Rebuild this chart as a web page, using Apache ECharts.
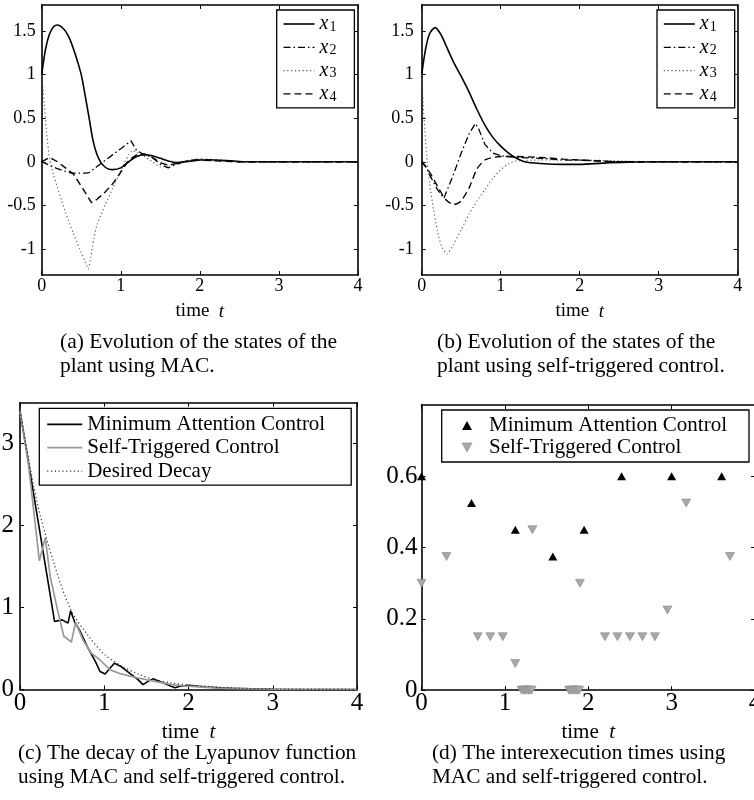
<!DOCTYPE html>
<html><head><meta charset="utf-8">
<script src="https://cdn.jsdelivr.net/npm/echarts@6/dist/echarts.min.js"></script>
<style>html,body{margin:0;padding:0;background:#fff}#c{width:754px;height:800px}</style>
</head><body><div id="c"></div>
<script>
// ---------- (a) states of the plant using MAC ----------
const a1T = [0,0.05,0.1,0.15,0.2,0.25,0.3,0.35,0.4,0.45,0.5,0.55,0.6,0.65,0.7,0.75,0.8,0.85,0.9,1.0,1.1,1.2,1.3,1.4,1.5,1.6,1.7,1.8,1.9,2.0,2.1,2.2,2.4,2.6,3.0,4.0];
const a1V = [1.0,1.3,1.47,1.55,1.57,1.55,1.5,1.42,1.3,1.16,1.0,0.76,0.5,0.24,0.08,-0.01,-0.06,-0.085,-0.09,-0.07,0.0,0.06,0.08,0.07,0.04,0.01,-0.01,0.0,0.01,0.02,0.02,0.02,0.01,0.0,0.0,0.0];
const a2T = [0,0.1,0.2,0.3,0.38,0.45,0.55,0.6,0.7,0.8,0.9,1.0,1.1,1.13,1.2,1.3,1.4,1.5,1.6,1.7,1.8,1.9,2.0,2.2,2.5,4.0];
const a2V = [0,-0.04,-0.08,-0.11,-0.13,-0.13,-0.13,-0.125,-0.055,0.014,0.082,0.15,0.22,0.24,0.13,0.08,0.05,-0.03,-0.07,-0.03,0.0,0.02,0.03,0.02,0.0,0.0];
const a3T = [0,0.03,0.06,0.1,0.15,0.2,0.25,0.3,0.4,0.48,0.55,0.59,0.62,0.66,0.7,0.8,0.9,1.0,1.1,1.15,1.2,1.3,1.4,1.5,1.6,1.7,1.9,2.0,2.2,2.5,4.0];
const a3V = [1.0,0.7,0.35,0.03,-0.15,-0.3,-0.44,-0.58,-0.82,-1.0,-1.15,-1.23,-1.1,-0.88,-0.72,-0.5,-0.3,-0.1,0.08,0.13,0.11,0.06,0.0,-0.06,-0.05,-0.01,0.02,0.03,0.01,0.0,0.0];
const a4T = [0,0.1,0.2,0.3,0.4,0.5,0.63,0.7,0.8,0.9,1.0,1.1,1.2,1.3,1.4,1.5,1.6,1.7,1.8,2.0,2.2,2.5,4.0];
const a4V = [0,0.05,0.0,-0.07,-0.14,-0.28,-0.47,-0.43,-0.35,-0.25,-0.12,0.02,0.08,0.09,0.05,-0.01,-0.04,-0.02,0.0,0.02,0.01,0.0,0.0];

// ---------- (b) states of the plant using self-triggered control ----------
const b1T = [0,0.05,0.1,0.17,0.25,0.3,0.4,0.5,0.6,0.7,0.8,0.9,1.0,1.1,1.2,1.3,1.5,1.8,2.0,2.3,2.6,3.0,4.0];
const b1V = [1.0,1.3,1.47,1.54,1.45,1.35,1.15,0.98,0.8,0.6,0.42,0.28,0.18,0.1,0.04,0.0,-0.02,-0.03,-0.03,-0.015,-0.005,0.0,0.0];
const b2T = [0,0.05,0.1,0.2,0.28,0.3,0.4,0.5,0.6,0.68,0.72,0.8,0.9,1.0,1.2,1.5,1.8,2.0,2.5,3.0,4.0];
const b2V = [0,-0.05,-0.15,-0.32,-0.42,-0.4,-0.15,0.1,0.32,0.44,0.38,0.2,0.1,0.07,0.05,0.04,0.02,0.02,0.0,0.0,0.0];
const b3T = [0,0.03,0.07,0.1,0.15,0.2,0.25,0.32,0.4,0.5,0.6,0.7,0.8,0.9,1.0,1.1,1.2,1.5,2.0,2.5,3.0,4.0];
const b3V = [1.0,0.5,0.0,-0.25,-0.55,-0.8,-0.97,-1.06,-0.95,-0.78,-0.6,-0.45,-0.32,-0.19,-0.09,-0.02,0.01,0.02,0.02,0.01,0.0,0.0];
const b4T = [0,0.1,0.2,0.3,0.4,0.45,0.5,0.6,0.7,0.8,0.9,1.0,1.2,1.5,1.8,2.0,2.5,4.0];
const b4V = [0,-0.12,-0.28,-0.43,-0.49,-0.48,-0.45,-0.3,-0.08,0.02,0.05,0.06,0.06,0.05,0.03,0.02,0.0,0.0];

// ---------- (c) decay of the Lyapunov function ----------
const macCT = [0,0.41,0.5,0.57,0.6,0.65,0.71,0.8,0.9,0.95,1.01,1.06,1.12,1.2,1.3,1.4,1.46,1.52,1.58,1.7,1.84,1.9,2.0,2.2,2.5,3.0,4.0];
const macCV = [3.4,0.83,0.85,0.81,0.96,0.82,0.72,0.52,0.33,0.22,0.19,0.25,0.32,0.28,0.2,0.12,0.06,0.1,0.13,0.08,0.02,0.04,0.05,0.03,0.015,0.003,0.0];
const stcCT = [0,0.1,0.23,0.3,0.36,0.45,0.52,0.61,0.66,0.75,0.85,0.95,1.07,1.2,1.4,1.6,1.8,2.0,2.3,2.6,3.0,4.0];
const stcCV = [3.4,2.75,1.57,1.85,1.37,0.95,0.65,0.58,0.82,0.6,0.44,0.36,0.24,0.19,0.14,0.1,0.06,0.04,0.02,0.01,0.003,0.0];
const decayT = [0,0.2,0.4,0.6,0.8,1.0,1.2,1.4,1.6,1.8,2.0,2.2,2.4,2.6,2.8,3.0,3.5,4.0];
const decayV = [3.4,2.3,1.55,0.98,0.67,0.43,0.29,0.19,0.12,0.08,0.055,0.04,0.025,0.016,0.01,0.007,0.002,0.0];

// ---------- (d) interexecution times ----------
const macDT = [0,0.6,1.125,1.575,1.95,2.4,3.0,3.6];
const macDV = [0.6,0.525,0.45,0.375,0.45,0.6,0.6,0.6];
const stcDT = [0,0.3,0.675,0.825,0.975,1.125,1.2,1.22,1.24,1.26,1.28,1.3,1.32,1.33,1.77,1.79,1.81,1.83,1.85,1.87,1.89,1.9,2.2,2.35,2.5,2.65,2.8,2.95,3.175,3.7];
const stcDV = [0.3,0.375,0.15,0.15,0.15,0.075,0,0,0,0,0,0,0,0.45,0,0,0,0,0,0,0,0.3,0.15,0.15,0.15,0.15,0.15,0.225,0.525,0.375];

// ---------- tick labels ----------
const xTicks = [0,1,2,3,4];
const abYTicks = [-1,-0.5,0,0.5,1,1.5];
const cYTicks = [0,1,2,3];
const dYTicks = [0,0.2,0.4,0.6];

const legendA = ['a1','a2','a3','a4'];
const legendB = ['b1','b2','b3','b4'];
const legendCNames = {MAC_c:'Minimum Attention Control', STC_c:'Self-Triggered Control', DD_c:'Desired Decay'};
const legendDNames = {MAC_d:'Minimum Attention Control', STC_d:'Self-Triggered Control'};

const captions = [
  ['(a) Evolution of the states of the', 'plant using MAC.'],
  ['(b) Evolution of the states of the', 'plant using self-triggered control.'],
  ['(c) The decay of the Lyapunov function', 'using MAC and self-triggered control.'],
  ['(d) The interexecution times using', 'MAC and self-triggered control.']
];

const FONT = '"Liberation Serif","Times New Roman",serif';
const pairs = (t, v) => t.map((x, i) => [x, v[i]]);

const grids = [
  {left: 41.7, top: 5, width: 316.3, height: 270},
  {left: 421.7, top: 5, width: 316, height: 270},
  {left: 20, top: 402.7, width: 337, height: 286.8},
  {left: 421.5, top: 405, width: 333.5, height: 285.2}
];
const yRange = [[-1.3, 1.8], [-1.3, 1.8], [0, 3.5], [0, 0.8]];
const yTickSets = [abYTicks, abYTicks, cYTicks, dYTicks];
const tickFs = [18, 18, 25, 25];
const yLabMargin = [6, 8, 6, 4];
const xLabMargin = [2, 2, 1, 1];
const nameFs = [19, 19, 21, 21];
const nameGap = [27, 27, 32, 32];

const axLine = {show: true, onZero: false, lineStyle: {color: '#000', width: 1.6}};
const tickStyle = {color: '#000', width: 1};

const xAxis = [], yAxis = [];
grids.forEach((g, i) => {
  xAxis.push({type: 'value', gridIndex: i, position: 'bottom', min: 0, max: 4,
    axisLine: axLine, splitLine: {show: false},
    axisTick: {show: true, inside: true, length: 4, customValues: xTicks, lineStyle: tickStyle},
    axisLabel: {show: true, customValues: xTicks, margin: xLabMargin[i], color: '#000', fontFamily: FONT, fontSize: tickFs[i]},
    name: 'time  {i|t}', nameLocation: 'middle', nameGap: nameGap[i],
    nameTextStyle: {color: '#000', fontFamily: FONT, fontSize: nameFs[i], lineHeight: nameFs[i],
      rich: {i: {fontStyle: 'italic', fontFamily: FONT, fontSize: nameFs[i], color: '#000', lineHeight: nameFs[i]}}}
  });
  xAxis.push({type: 'value', gridIndex: i, position: 'top', min: 0, max: 4,
    axisLine: axLine, splitLine: {show: false},
    axisTick: {show: true, inside: true, length: 4, customValues: xTicks, lineStyle: tickStyle},
    axisLabel: {show: false}
  });
  yAxis.push({type: 'value', gridIndex: i, position: 'left', min: yRange[i][0], max: yRange[i][1],
    axisLine: axLine, splitLine: {show: false},
    axisTick: {show: true, inside: true, length: 4, customValues: yTickSets[i], lineStyle: tickStyle},
    axisLabel: {show: true, customValues: yTickSets[i], margin: yLabMargin[i], color: '#000', fontFamily: FONT, fontSize: tickFs[i]}
  });
  yAxis.push({type: 'value', gridIndex: i, position: 'right', min: yRange[i][0], max: yRange[i][1],
    axisLine: axLine, splitLine: {show: false},
    axisTick: {show: true, inside: true, length: 4, customValues: yTickSets[i], lineStyle: tickStyle},
    axisLabel: {show: false}
  });
});

const SOLID = 'solid', DASH = [7, 4], DASHDOT = [7, 3, 1.5, 3], DOT = [1.2, 2.6];
function lineSeries(name, gi, t, v, type, color, width, smooth) {
  return {type: 'line', name, xAxisIndex: 2 * gi, yAxisIndex: 2 * gi, data: pairs(t, v),
    symbol: 'none', smooth: smooth || false, clip: true, animation: false,
    lineStyle: {color, width, type}, itemStyle: {color}, emphasis: {disabled: true}};
}
const UP = 'path://M5,0 L10,9 L0,9 Z';
const DOWN = 'path://M0,0 L10,0 L5,9 Z';

const series = [
  lineSeries('a1', 0, a1T, a1V, SOLID, '#000', 1.6, 0.3),
  lineSeries('a2', 0, a2T, a2V, DASHDOT, '#000', 1.3),
  lineSeries('a3', 0, a3T, a3V, DOT, '#555', 1.1, 0.2),
  lineSeries('a4', 0, a4T, a4V, DASH, '#000', 1.4),
  lineSeries('b1', 1, b1T, b1V, SOLID, '#000', 1.6, 0.3),
  lineSeries('b2', 1, b2T, b2V, DASHDOT, '#000', 1.3),
  lineSeries('b3', 1, b3T, b3V, DOT, '#555', 1.1, 0.2),
  lineSeries('b4', 1, b4T, b4V, DASH, '#000', 1.4, 0.2),
  lineSeries('MAC_c', 2, macCT, macCV, SOLID, '#000', 1.6),
  lineSeries('STC_c', 2, stcCT, stcCV, SOLID, '#999', 1.7),
  lineSeries('DD_c', 2, decayT, decayV, DOT, '#333', 1.2, 0.3),
  {type: 'scatter', name: 'STC_d', xAxisIndex: 6, yAxisIndex: 6, data: pairs(stcDT, stcDV),
    symbol: DOWN, symbolSize: [9, 8], animation: false, clip: true,
    itemStyle: {color: '#a8a8a8', borderColor: '#888', borderWidth: 0.6, opacity: 1}, emphasis: {disabled: true}},
  {type: 'scatter', name: 'MAC_d', xAxisIndex: 6, yAxisIndex: 6, data: pairs(macDT, macDV),
    symbol: UP, symbolSize: [9, 8], animation: false, clip: true,
    itemStyle: {color: '#000', opacity: 1}, emphasis: {disabled: true}}
];

const richX = {
  x: {fontStyle: 'italic', fontFamily: FONT, fontSize: 20, color: '#000', lineHeight: 20},
  s: {fontFamily: FONT, fontSize: 14, color: '#000', lineHeight: 12, verticalAlign: 'bottom', padding: [0, 0, 0, 1]}
};
const styleMap = {a1: [SOLID, 1.6], a2: [DASHDOT, 1.3], a3: [DOT, 1.1], a4: [DASH, 1.4]};
function legendAB(names, left) {
  return {left, top: 10, orient: 'vertical', selectedMode: false,
    data: names.map(n => ({name: n, lineStyle: {type: styleMap['a' + n[1]][0], width: styleMap['a' + n[1]][1], color: n[1] === '3' ? '#555' : '#000'}})),
    itemWidth: 31, itemHeight: 12, itemGap: 3.3, padding: [4, 18, 4, 6],
    borderColor: '#000', borderWidth: 1.3, backgroundColor: '#fff', borderRadius: 0,
    itemStyle: {opacity: 0},
    formatter: n => '{x|x}{s|' + n[1] + '}',
    textStyle: {rich: richX}};
}
const legend = [
  legendAB(legendA, 276.7),
  legendAB(legendB, 657),
  {left: 39.3, top: 408.3, orient: 'vertical', selectedMode: false,
    data: [
      {name: 'MAC_c', lineStyle: {type: 'solid', width: 1.8, color: '#000'}},
      {name: 'STC_c', lineStyle: {type: 'solid', width: 1.8, color: '#999'}},
      {name: 'DD_c', lineStyle: {type: DOT, width: 1.2, color: '#333'}}
    ],
    itemWidth: 35, itemHeight: 12, itemGap: 1.4, padding: [5, 26, 3, 7],
    borderColor: '#000', borderWidth: 1.3, backgroundColor: '#fff', borderRadius: 0,
    itemStyle: {opacity: 0},
    formatter: n => legendCNames[n],
    textStyle: {fontFamily: FONT, fontSize: 21, color: '#000', lineHeight: 22}},
  {left: 441.7, top: 410, orient: 'vertical', selectedMode: false,
    data: [
      {name: 'MAC_d', icon: UP, itemStyle: {color: '#000', opacity: 1}},
      {name: 'STC_d', icon: DOWN, itemStyle: {color: '#a8a8a8', borderColor: '#888', borderWidth: 0.6, opacity: 1}}
    ],
    itemWidth: 34, itemHeight: 9, itemGap: 1, padding: [5, 22, 4, 20],
    borderColor: '#000', borderWidth: 1.3, backgroundColor: '#fff', borderRadius: 0,
    formatter: n => legendDNames[n],
    textStyle: {fontFamily: FONT, fontSize: 21, color: '#000', lineHeight: 21}}
];

const capPos = [[60, 342, 21.5], [437, 342, 21.5], [18, 753, 21.3], [432, 753, 21.3]];
const graphic = [];
captions.forEach((lines, i) => {
  lines.forEach((txt, j) => {
    graphic.push({type: 'text', x: capPos[i][0], y: capPos[i][1] + j * 24, silent: true,
      style: {text: txt, fill: '#000', font: capPos[i][2] + 'px ' + FONT, verticalAlign: 'middle', align: 'left'}});
  });
});

const chart = echarts.init(document.getElementById('c'), null, {renderer: 'canvas'});
chart.setOption({
  animation: false,
  backgroundColor: '#fff',
  grid: grids.map(g => Object.assign({containLabel: false, outerBoundsMode: 'none'}, g)),
  xAxis, yAxis, series, legend, graphic
});
</script>
</body></html>
